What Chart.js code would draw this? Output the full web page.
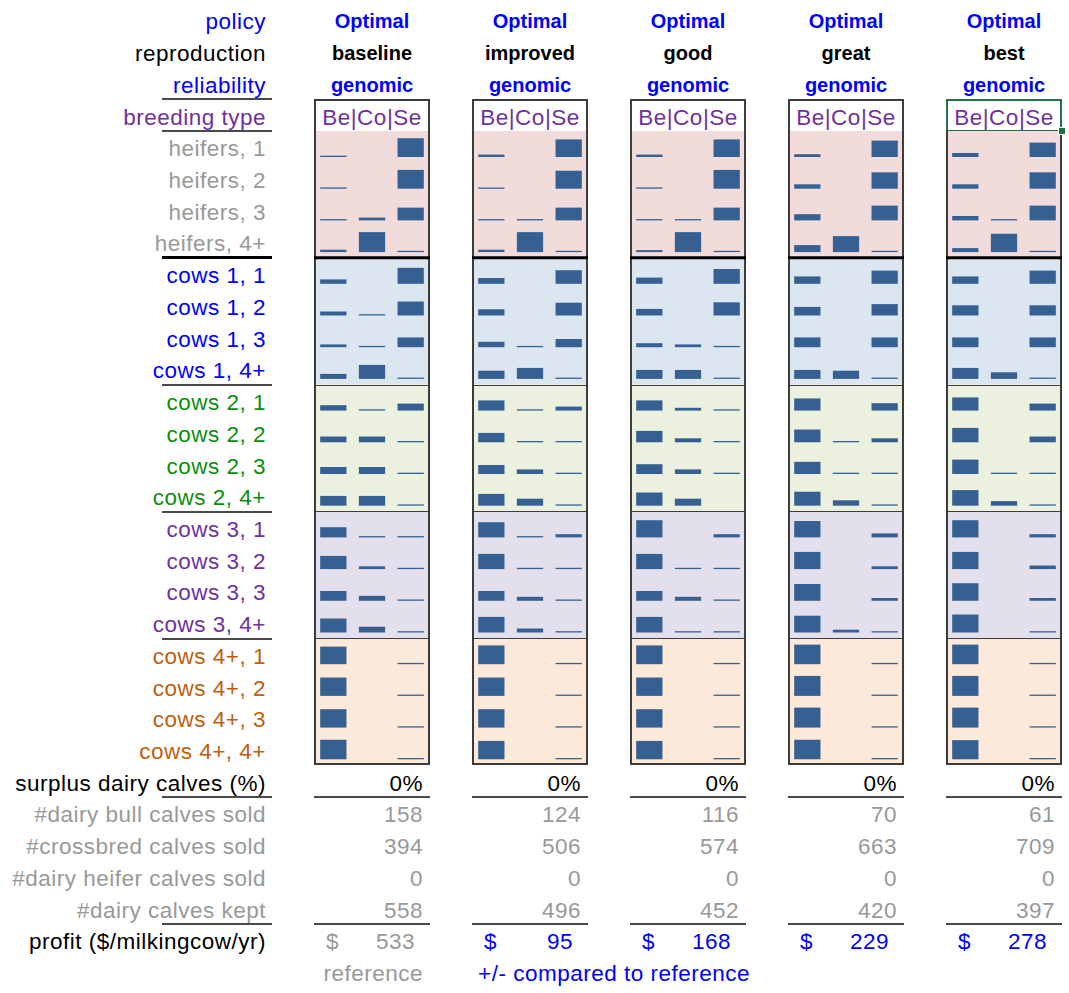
<!DOCTYPE html>
<html>
<head>
<meta charset="utf-8">
<script src="https://cdn.jsdelivr.net/npm/chart.js@4.4.1/dist/chart.umd.min.js"></script>
<style>
  body { margin: 0; background: #fff; }
  #sheet { position: relative; width: 1069px; height: 993px; overflow: hidden;
           font-family: 'Liberation Sans', Arial, sans-serif; }
  .t { position: absolute; white-space: nowrap; font-size: 22.5px; letter-spacing: 0.5px; }
  .b { font-weight: bold; font-size: 20px; letter-spacing: 0; }
  .rule { position: absolute; }
  canvas { position: absolute; }
</style>
</head>
<body>
<div id="sheet"></div>
<script>
// row categories (animal group, lactation)
const rowLabels = ['heifers, 1', 'heifers, 2', 'heifers, 3', 'heifers, 4+',
                   'cows 1, 1', 'cows 1, 2', 'cows 1, 3', 'cows 1, 4+',
                   'cows 2, 1', 'cows 2, 2', 'cows 2, 3', 'cows 2, 4+',
                   'cows 3, 1', 'cows 3, 2', 'cows 3, 3', 'cows 3, 4+',
                   'cows 4+, 1', 'cows 4+, 2', 'cows 4+, 3', 'cows 4+, 4+'];
const breedTypes = ['Be', 'Co', 'Se'];

const policies = ['Optimal', 'Optimal', 'Optimal', 'Optimal', 'Optimal'];
const reproduction = ['baseline', 'improved', 'good', 'great', 'best'];
const reliability = ['genomic', 'genomic', 'genomic', 'genomic', 'genomic'];

// share bred to beef / conventional / sexed semen (null = empty cell)
const baselineBe = [0, 0, 0, 0.12, 0.22, 0.2, 0.14, 0.25, 0.27, 0.29, 0.35, 0.49, 0.51, 0.66, 0.49, 0.7, 0.88, 0.92, 0.92, 0.98];
const baselineCo = [null, null, 0.14, 1, null, 0, 0, 0.7, 0, 0.29, 0.35, 0.49, 0, 0.14, 0.25, 0.29, null, null, null, null];
const baselineSe = [0.94, 0.94, 0.64, 0, 0.8, 0.7, 0.49, 0, 0.35, 0, 0, 0, 0, 0, 0, 0, 0, 0, 0, 0];

const improvedBe = [0.12, 0.06, 0, 0.12, 0.29, 0.31, 0.27, 0.41, 0.51, 0.47, 0.45, 0.59, 0.76, 0.76, 0.49, 0.78, 0.94, 0.92, 0.92, 0.92];
const improvedCo = [null, null, 0, 1, null, null, 0, 0.55, 0, 0, 0.23, 0.35, 0, 0, 0.2, 0.2, null, null, null, null];
const improvedSe = [0.88, 0.9, 0.64, 0, 0.68, 0.64, 0.41, 0, 0.2, 0, 0, 0, 0.16, 0, 0, 0, 0, 0, 0, 0];

const goodBe = [0.12, 0, 0, 0.1, 0.31, 0.33, 0.2, 0.45, 0.51, 0.57, 0.49, 0.66, 0.86, 0.76, 0.49, 0.78, 0.94, 0.92, 0.92, 0.92];
const goodCo = [null, null, 0, 1, null, null, 0.14, 0.45, 0.14, 0.2, 0.23, 0.35, null, 0, 0.2, 0, null, null, null, null];
const goodSe = [0.88, 0.94, 0.64, 0, 0.74, 0.66, 0, 0, 0, 0, 0, null, 0.16, 0, 0, 0, 0, 0, 0, 0];

const greatBe = [0.14, 0.22, 0.31, 0.35, 0.37, 0.43, 0.49, 0.45, 0.61, 0.64, 0.61, 0.7, 0.82, 0.86, 0.84, 0.84, 0.98, 1, 1, 0.98];
const greatCo = [null, null, null, 0.8, null, null, null, 0.41, null, 0, 0, 0.27, null, null, null, 0.14, null, null, null, null];
const greatSe = [0.82, 0.82, 0.74, 0, 0.66, 0.57, 0.49, 0, 0.37, 0.2, 0, 0, 0.2, 0.14, 0.14, 0, 0, 0, 0, 0];

const bestBe = [0.2, 0.22, 0.22, 0.2, 0.37, 0.51, 0.49, 0.55, 0.66, 0.72, 0.72, 0.78, 0.86, 0.86, 0.88, 0.9, 0.98, 1, 1, 0.96];
const bestCo = [null, null, 0, 0.92, null, null, null, 0.33, null, null, 0, 0.23, null, null, null, null, null, null, null, null];
const bestSe = [0.72, 0.82, 0.74, 0, 0.66, 0.51, 0.49, 0, 0.35, 0.29, 0, 0, 0.16, 0.18, 0.14, 0, 0, 0, 0, 0];

const surplus = ['0%', '0%', '0%', '0%', '0%'];
const bullCalvesSold = [158, 124, 116, 70, 61];
const crossbredSold = [394, 506, 574, 663, 709];
const heiferCalvesSold = [0, 0, 0, 0, 0];
const calvesKept = [558, 496, 452, 420, 397];
const profit = [533, 95, 168, 229, 278];

const panels = [
  [baselineBe, baselineCo, baselineSe],
  [improvedBe, improvedCo, improvedSe],
  [goodBe, goodCo, goodSe],
  [greatBe, greatCo, greatSe],
  [bestBe, bestCo, bestSe]
];

// layout
const ROW_H = 31.72;
const TOP = 131;           // top of first data row
const rowTop = k => TOP + (k - 4) * ROW_H;
const LABEL_RIGHT = 266;
const PANEL_W = 116;
const panelLeft = i => 314 + 158 * i;

const BLUE = '#0000ff', PURPLE = '#7030a0', GRAY = '#999999', GREEN = '#0a8f0a', BROWN = '#c0600f';
const groupColors = [GRAY, BLUE, GREEN, PURPLE, BROWN];
const groupFills = ['#f2dcdb', '#dce6f1', '#ebf1de', '#e4dfec', '#fde9d9'];
const BAR = '#366092';

const sheet = document.getElementById('sheet');

function text(str, k, opts) {
  const d = document.createElement('div');
  d.className = 't' + (opts.bold ? ' b' : '');
  d.textContent = str;
  d.style.top = (rowTop(k) + 2.3) + 'px';
  d.style.height = ROW_H + 'px';
  d.style.lineHeight = ROW_H + 'px';
  d.style.color = opts.color || '#000';
  if (opts.right !== undefined) { d.style.right = (1069 - opts.right) + 'px'; d.style.textAlign = 'right'; }
  if (opts.left !== undefined) d.style.left = opts.left + 'px';
  if (opts.center !== undefined) { d.style.left = (opts.center - 100) + 'px'; d.style.width = '200px'; d.style.textAlign = 'center'; }
  sheet.appendChild(d);
}

function rule(x1, x2, y, h, color) {
  const d = document.createElement('div');
  d.className = 'rule';
  d.style.left = x1 + 'px';
  d.style.width = (x2 - x1) + 'px';
  d.style.top = (y - h / 2) + 'px';
  d.style.height = h + 'px';
  d.style.background = color;
  sheet.appendChild(d);
}

// label column
text('policy', 0, {right: LABEL_RIGHT, color: BLUE});
text('reproduction', 1, {right: LABEL_RIGHT});
text('reliability', 2, {right: LABEL_RIGHT, color: BLUE});
text('breeding type', 3, {right: LABEL_RIGHT, color: PURPLE});
rowLabels.forEach((l, r) => text(l, 4 + r, {right: LABEL_RIGHT, color: groupColors[Math.floor(r / 4)]}));
text('surplus dairy calves (%)', 24, {right: LABEL_RIGHT});
text('#dairy bull calves sold', 25, {right: LABEL_RIGHT, color: GRAY});
text('#crossbred calves sold', 26, {right: LABEL_RIGHT, color: GRAY});
text('#dairy heifer calves sold', 27, {right: LABEL_RIGHT, color: GRAY});
text('#dairy calves kept', 28, {right: LABEL_RIGHT, color: GRAY});
text('profit ($/milkingcow/yr)', 29, {right: LABEL_RIGHT});

[3, 4, 12, 16, 20, 25, 29].forEach(k => rule(162, 272, rowTop(k), 2, '#4a4a4a'));
rule(162, 272, rowTop(8), 3, '#000');

// floating bars: each row sits in its own band of the reversed y scale
const GAP = 0.18, FULL = 0.63;
function rowBar(v, r) {
  if (v === null) return null;
  const bottom = r + 1 - GAP;
  return [bottom - v * FULL, bottom];
}

const panelFrame = {
  id: 'panelFrame',
  beforeDatasetsDraw(chart) {
    const {ctx, chartArea: a, scales: {y}} = chart;
    groupFills.forEach((c, g) => {
      const t = y.getPixelForValue(g * 4), b = y.getPixelForValue(g * 4 + 4);
      ctx.fillStyle = c;
      ctx.fillRect(a.left, t, a.right - a.left, b - t);
    });
  },
  afterDatasetsDraw(chart) {
    const {ctx, chartArea: a, scales: {y}} = chart;
    ctx.save();
    ctx.strokeStyle = '#3c3c3c';
    ctx.lineWidth = 1;
    [8, 12, 16].forEach(r => {
      const p = Math.round(y.getPixelForValue(r)) + 0.5;
      ctx.beginPath(); ctx.moveTo(a.left, p); ctx.lineTo(a.right, p); ctx.stroke();
    });
    ctx.lineWidth = 2;
    ctx.strokeRect(a.left + 1, a.top - 1, a.right - a.left - 2, a.bottom - a.top + 0);
    ctx.strokeStyle = '#000';
    ctx.lineWidth = 3;
    const p4 = y.getPixelForValue(4);
    ctx.beginPath(); ctx.moveTo(a.left, p4); ctx.lineTo(a.right, p4); ctx.stroke();
    ctx.restore();
  }
};

panels.forEach((cols, i) => {
  const x0 = panelLeft(i);
  const cx = x0 + PANEL_W / 2;
  const right = x0 + PANEL_W;
  const accent = i === 0 ? GRAY : BLUE;

  text(policies[i], 0, {center: cx, color: BLUE, bold: true});
  text(reproduction[i], 1, {center: cx, bold: true});
  text(reliability[i], 2, {center: cx, color: BLUE, bold: true});

  // header cell
  const h = document.createElement('div');
  h.style.position = 'absolute';
  h.style.left = x0 + 'px';
  h.style.top = rowTop(3) + 'px';
  h.style.width = PANEL_W + 'px';
  h.style.height = (ROW_H + 1) + 'px';
  h.style.boxSizing = 'border-box';
  h.style.background = '#fff';
  h.style.border = i === 4 ? '2px solid #217346' : '2px solid #3c3c3c';
  if (i !== 4) h.style.borderBottom = 'none';
  sheet.appendChild(h);
  text(breedTypes.join('|'), 3, {center: cx, color: PURPLE});

  const cv = document.createElement('canvas');
  cv.width = PANEL_W;
  cv.height = Math.round(20 * ROW_H);
  cv.style.left = x0 + 'px';
  cv.style.top = TOP + 'px';
  sheet.appendChild(cv);

  const datasets = rowLabels.map((lab, r) => ({
    label: lab,
    data: cols.map(arr => rowBar(arr[r], r)),
    backgroundColor: BAR,
    borderWidth: 0
  }));

  new Chart(cv.getContext('2d'), {
    type: 'bar',
    data: {labels: breedTypes, datasets: datasets},
    options: {
      responsive: false,
      animation: false,
      events: [],
      layout: {padding: 0},
      plugins: {legend: {display: false}, tooltip: {enabled: false}, colors: {enabled: false}},
      datasets: {
        bar: {
          grouped: false,
          barPercentage: 0.68,
          categoryPercentage: 1,
          minBarLength: 1.3
        }
      },
      scales: {
        x: {display: false, offset: true},
        y: {display: false, min: 0, max: 20, reverse: true}
      }
    },
    plugins: [panelFrame]
  });

  if (i === 4) {
    const hd = document.createElement('div');
    hd.style.cssText = 'position:absolute;width:6px;height:6px;background:#217346;border:1px solid #fff;';
    hd.style.left = (right - 4) + 'px';
    hd.style.top = (TOP - 4) + 'px';
    sheet.appendChild(hd);
  }

  // summary rows
  text(surplus[i], 24, {right: right - 7});
  text(String(bullCalvesSold[i]), 25, {right: right - 7, color: GRAY});
  text(String(crossbredSold[i]), 26, {right: right - 7, color: GRAY});
  text(String(heiferCalvesSold[i]), 27, {right: right - 7, color: GRAY});
  text(String(calvesKept[i]), 28, {right: right - 7, color: GRAY});
  text('$', 29, {left: x0 + 12, color: accent});
  text(String(profit[i]), 29, {right: right - 15, color: accent});
  rule(x0, right, rowTop(25), 2, '#4a4a4a');
  rule(x0, right, rowTop(29), 2, '#4a4a4a');
});

text('reference', 30, {right: panelLeft(0) + PANEL_W - 7, color: GRAY});
text('+/- compared to reference', 30, {left: 478, color: BLUE});
</script>
</body>
</html>
